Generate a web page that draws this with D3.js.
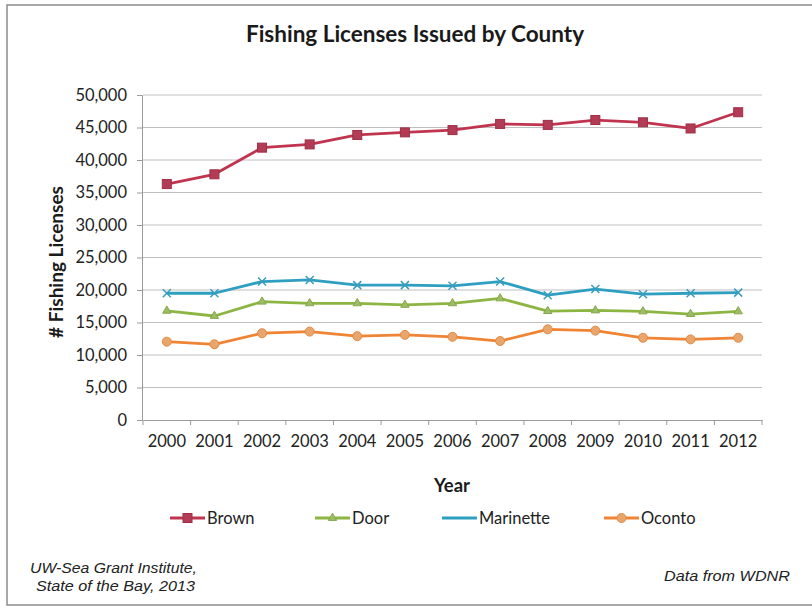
<!DOCTYPE html>
<html>
<head>
<meta charset="utf-8">
<script src="https://cdn.jsdelivr.net/npm/d3@7"></script>
<style>
  body { margin: 0; background: #fff; }
  svg { display: block; }
</style>
</head>
<body>
<div id="chart"></div>
<script>
// data
const years = ["2000","2001","2002","2003","2004","2005","2006","2007","2008","2009","2010","2011","2012"];
const brown = [36300, 37800, 41900, 42400, 43850, 44250, 44600, 45550, 45400, 46150, 45800, 44850, 47350];
const door = [16800, 16000, 18200, 17950, 17950, 17700, 17950, 18700, 16750, 16850, 16700, 16300, 16700];
const marinette = [19500, 19500, 21300, 21550, 20750, 20750, 20650, 21300, 19200, 20150, 19350, 19500, 19600];
const oconto = [12050, 11650, 13350, 13600, 12900, 13100, 12800, 12150, 13950, 13750, 12650, 12400, 12650];
const yTicks = [0, 5000, 10000, 15000, 20000, 25000, 30000, 35000, 40000, 45000, 50000];

const series = [
  {name: "Brown", values: brown, color: "#c0344f", mark: "square"},
  {name: "Door", values: door, color: "#8db543", mark: "triangle"},
  {name: "Marinette", values: marinette, color: "#2e9fc0", mark: "cross"},
  {name: "Oconto", values: oconto, color: "#ef8434", mark: "circle"}
];

const W = 812, H = 608;
const margin = {top: 95, right: 50, bottom: 188, left: 143};
const svg = d3.select("#chart").append("svg").attr("width", W).attr("height", H);

// outer frame
svg.append("rect").attr("x", 7).attr("y", 5).attr("width", W + 10).attr("height", H - 8)
  .attr("fill", "none").attr("stroke", "#8c8c8c").attr("stroke-width", 1.5);

const x = d3.scaleBand().domain(years).range([margin.left, W - margin.right]);
const y = d3.scaleLinear().domain([0, 50000]).range([H - margin.bottom, margin.top]);

const font = "Lato, 'Open Sans', sans-serif";

// gridlines
svg.append("g").selectAll("line").data(yTicks.filter(d => d > 0)).join("line")
  .attr("x1", margin.left).attr("x2", W - margin.right)
  .attr("y1", d => y(d)).attr("y2", d => y(d))
  .attr("stroke", "#bfbfbf").attr("stroke-width", 1);

// y axis
const yAxis = svg.append("g").attr("transform", `translate(${margin.left - 1},0)`)
  .call(d3.axisLeft(y).tickValues(yTicks).tickFormat(d3.format(",")).tickSize(5).tickPadding(10));
yAxis.select(".domain").attr("stroke", "#9a9a9a");
yAxis.selectAll(".tick line").attr("stroke", "#9a9a9a");
yAxis.selectAll("text").attr("font-family", font).attr("font-size", 16.5).attr("fill", "#222");

// x axis
const xAxis = svg.append("g").attr("transform", `translate(0,${H - margin.bottom})`)
  .call(d3.axisBottom(x).tickSize(0).tickPadding(15));
xAxis.select(".domain").attr("stroke", "#9a9a9a");
xAxis.selectAll("text").attr("font-family", font).attr("font-size", 16.5).attr("fill", "#222");
// category boundary ticks
svg.append("g").selectAll("line").data(years.concat(["end"])).join("line")
  .attr("x1", (d, i) => margin.left + i * x.step()).attr("x2", (d, i) => margin.left + i * x.step())
  .attr("y1", H - margin.bottom).attr("y2", H - margin.bottom + 5)
  .attr("stroke", "#9a9a9a");

// lines
const line = d3.line().x((d, i) => x(years[i]) + x.bandwidth() / 2).y(d => y(d));

function drawMark(g, type, color, cx, cy) {
  if (type === "square") {
    g.append("rect").attr("x", cx - 4.5).attr("y", cy - 4.5).attr("width", 9).attr("height", 9)
      .attr("fill", "#b23c55").attr("stroke", "#9e2f46").attr("stroke-width", 1);
  } else if (type === "triangle") {
    g.append("path").attr("d", d3.symbol(d3.symbolTriangle, 30)()).attr("transform", `translate(${cx},${cy})`)
      .attr("fill", "#9cbc66").attr("stroke", "#86a84b").attr("stroke-width", 1);
  } else if (type === "cross") {
    g.append("path").attr("d", `M${cx - 4},${cy - 4}L${cx + 4},${cy + 4}M${cx - 4},${cy + 4}L${cx + 4},${cy - 4}`)
      .attr("stroke", "#3a9cbd").attr("stroke-width", 1.5);
  } else {
    g.append("circle").attr("cx", cx).attr("cy", cy).attr("r", 4.5)
      .attr("fill", "#e8a56c").attr("stroke", "#e48a44").attr("stroke-width", 1);
  }
}

series.forEach(s => {
  svg.append("path").datum(s.values).attr("d", line)
    .attr("fill", "none").attr("stroke", s.color).attr("stroke-width", 2.8).attr("stroke-linejoin", "round");
  const g = svg.append("g");
  s.values.forEach((v, i) => drawMark(g, s.mark, s.color, x(years[i]) + x.bandwidth() / 2, y(v)));
});

// title & axis titles
svg.append("text").attr("x", 415).attr("y", 42).attr("text-anchor", "middle")
  .attr("font-family", font).attr("font-weight", "bold").attr("font-size", 22.5).attr("fill", "#1a1a1a")
  .text("Fishing Licenses Issued by County");
svg.append("text").attr("x", 452).attr("y", 492).attr("text-anchor", "middle")
  .attr("font-family", font).attr("font-weight", "bold").attr("font-size", 18.5).attr("fill", "#1a1a1a")
  .text("Year");
svg.append("text").attr("transform", "translate(63,262) rotate(-90)").attr("text-anchor", "middle")
  .attr("font-family", font).attr("font-weight", "bold").attr("font-size", 19).attr("fill", "#1a1a1a")
  .text("# Fishing Licenses");

// legend
const legendX = [170, 315, 442, 604];
series.forEach((s, i) => {
  const g = svg.append("g");
  const lx = legendX[i], ly = 518;
  g.append("line").attr("x1", lx).attr("x2", lx + 35).attr("y1", ly).attr("y2", ly)
    .attr("stroke", s.color).attr("stroke-width", 2.8);
  if (s.mark !== "cross") drawMark(g, s.mark, s.color, lx + 17.5, ly);
  g.append("text").attr("x", lx + 37).attr("y", ly + 6).attr("font-family", font).attr("font-size", 16.5)
    .attr("fill", "#222").text(s.name);
});

// footnotes
const foot = "'Liberation Sans', Arial, sans-serif";
svg.append("text").attr("x", 30).attr("y", 573).attr("font-family", foot).attr("font-style", "italic")
  .attr("font-size", 14.5).attr("textLength", 167).attr("lengthAdjust", "spacingAndGlyphs")
  .attr("fill", "#222").text("UW-Sea Grant Institute,");
svg.append("text").attr("x", 36).attr("y", 591).attr("font-family", foot).attr("font-style", "italic")
  .attr("font-size", 14.5).attr("textLength", 159).attr("lengthAdjust", "spacingAndGlyphs")
  .attr("fill", "#222").text("State of the Bay, 2013");
svg.append("text").attr("x", 790).attr("y", 581).attr("text-anchor", "end").attr("font-family", foot)
  .attr("font-style", "italic").attr("font-size", 14.5).attr("textLength", 126).attr("lengthAdjust", "spacingAndGlyphs")
  .attr("fill", "#222").text("Data from WDNR");
</script>
</body>
</html>
